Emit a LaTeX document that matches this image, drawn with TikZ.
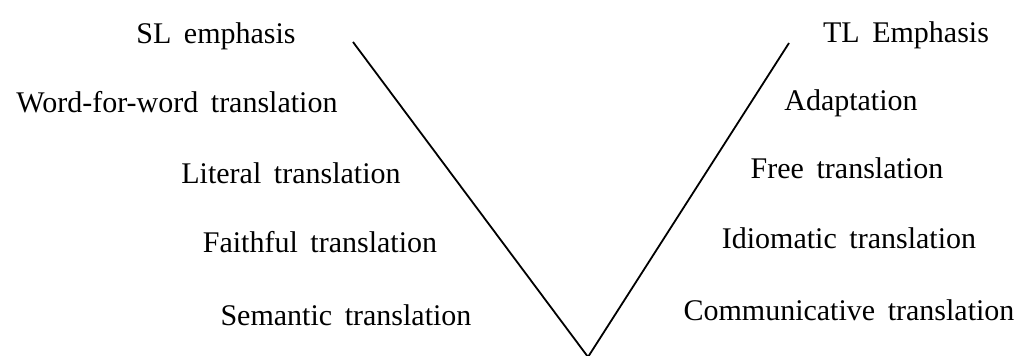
\documentclass[tikz,border=0pt]{standalone}
\usepackage{fontspec}
\setmainfont{Liberation Serif}
\newfontfamily\labelfont{Liberation Serif}
\begin{document}
\begin{tikzpicture}[x=0.5pt,y=-0.5pt,
    lbl/.style={anchor=base,inner sep=0pt,
      font={\labelfont\fontsize{15}{18}\selectfont\spaceskip=0.42em plus 0.1em\relax}},
    vline/.style={line width=0.9pt,line join=miter}]
  \useasboundingbox (0,0) rectangle (1024,356);

  % the V
  \coordinate (ltop) at (353,42);
  \coordinate (rtop) at (789,43);
  \coordinate (vtx)  at (588,357);
  \draw[vline] (ltop) -- (vtx) -- (rtop);

  % source-language side
  \node[lbl] (sl)   at (216,44)  {SL emphasis};
  \node[lbl] (wfw)  at (177,113) {Word-for-word translation};
  \node[lbl] (lit)  at (291,184) {Literal translation};
  \node[lbl] (fai)  at (320,253) {Faithful translation};
  \node[lbl] (sem)  at (346,326) {Semantic translation};

  % target-language side
  \node[lbl] (tl)   at (906,43)  {TL Emphasis};
  \node[lbl] (ada)  at (851,111) {Adaptation};
  \node[lbl] (free) at (847,179) {Free translation};
  \node[lbl] (idi)  at (849,249) {Idiomatic translation};
  \node[lbl] (com)  at (849,321) {Communicative translation};
\end{tikzpicture}
\end{document}
